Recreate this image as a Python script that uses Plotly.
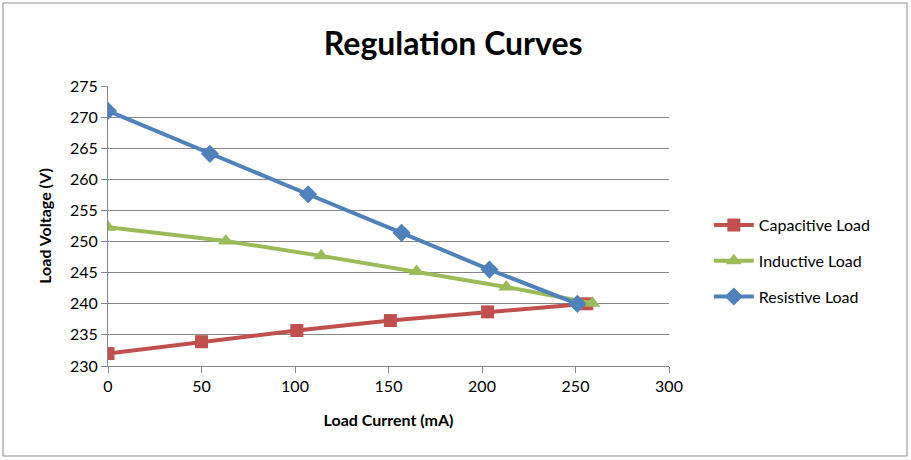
import plotly.graph_objects as go

res_x = [0, 54.5, 107, 157, 204, 251]
res_y = [271.0, 264.1, 257.6, 251.4, 245.5, 240.0]
ind_x = [0, 63, 114, 165, 213, 259]
ind_y = [252.3, 250.1, 247.7, 245.2, 242.7, 240.1]
cap_x = [0, 50, 101, 151, 203, 256]
cap_y = [232.0, 233.9, 235.7, 237.3, 238.7, 240.0]

x_ticks = [0, 50, 100, 150, 200, 250, 300]
y_ticks = [230, 235, 240, 245, 250, 255, 260, 265, 270, 275]

FONT = "Lato, Open Sans, sans-serif"

fig = go.Figure()
fig.add_trace(go.Scatter(x=cap_x, y=cap_y, name="Capacitive Load", mode="lines+markers",
                         legendgroup="c",
                         line=dict(color="#C0504D", width=4),
                         marker=dict(symbol="square", size=13, color="#C0504D")))
fig.add_trace(go.Scatter(x=ind_x, y=ind_y, name="Inductive Load", mode="lines+markers",
                         legendgroup="i",
                         line=dict(color="#9BBB59", width=4),
                         marker=dict(symbol="triangle-up", size=14, color="#9BBB59")))
fig.add_trace(go.Scatter(x=res_x, y=res_y, name="Resistive Load", mode="lines+markers",
                         legendgroup="r",
                         line=dict(color="#4F81BD", width=4),
                         marker=dict(symbol="diamond", size=14, color="#4F81BD")))

fig.update_layout(
    width=911, height=460,
    paper_bgcolor="white", plot_bgcolor="white",
    margin=dict(l=108, r=242, t=86, b=94),
    title=dict(text="<b>Regulation Curves</b>", x=0.4975, xanchor="center", y=0.905, yanchor="middle",
               font=dict(family=FONT, size=32, color="black")),
    font=dict(family=FONT, size=16, color="black"),
    legend=dict(x=1.071, y=0.375, xanchor="left", yanchor="middle",
                font=dict(family=FONT, size=16, color="black"),
                tracegroupgap=12, itemwidth=40, bgcolor="rgba(0,0,0,0)"),
    showlegend=True,
    shapes=[dict(type="rect", xref="paper", yref="paper",
                 x0=-105/561, x1=1 + 238/561, y0=-90/280, y1=1 + 83/280,
                 line=dict(color="#8c8c8c", width=1))],
)
fig.update_xaxes(range=[0, 300], tickvals=x_ticks, showgrid=False, zeroline=False,
                 showline=True, linecolor="#868686", linewidth=1,
                 ticks="outside", ticklen=6, tickcolor="#868686",
                 tickfont=dict(family=FONT, size=16),
                 title=dict(text="<b>Load Current (mA)</b>", font=dict(family=FONT, size=16), standoff=20))
fig.update_yaxes(range=[230, 275], tickvals=y_ticks, showgrid=True, gridcolor="#868686", gridwidth=1,
                 zeroline=False, showline=True, linecolor="#868686", linewidth=1,
                 ticks="outside", ticklen=6, tickcolor="#868686",
                 tickfont=dict(family=FONT, size=16),
                 title=dict(text="<b>Load Voltage (V)</b>", font=dict(family=FONT, size=16), standoff=14))

fig.write_html("out.html")
